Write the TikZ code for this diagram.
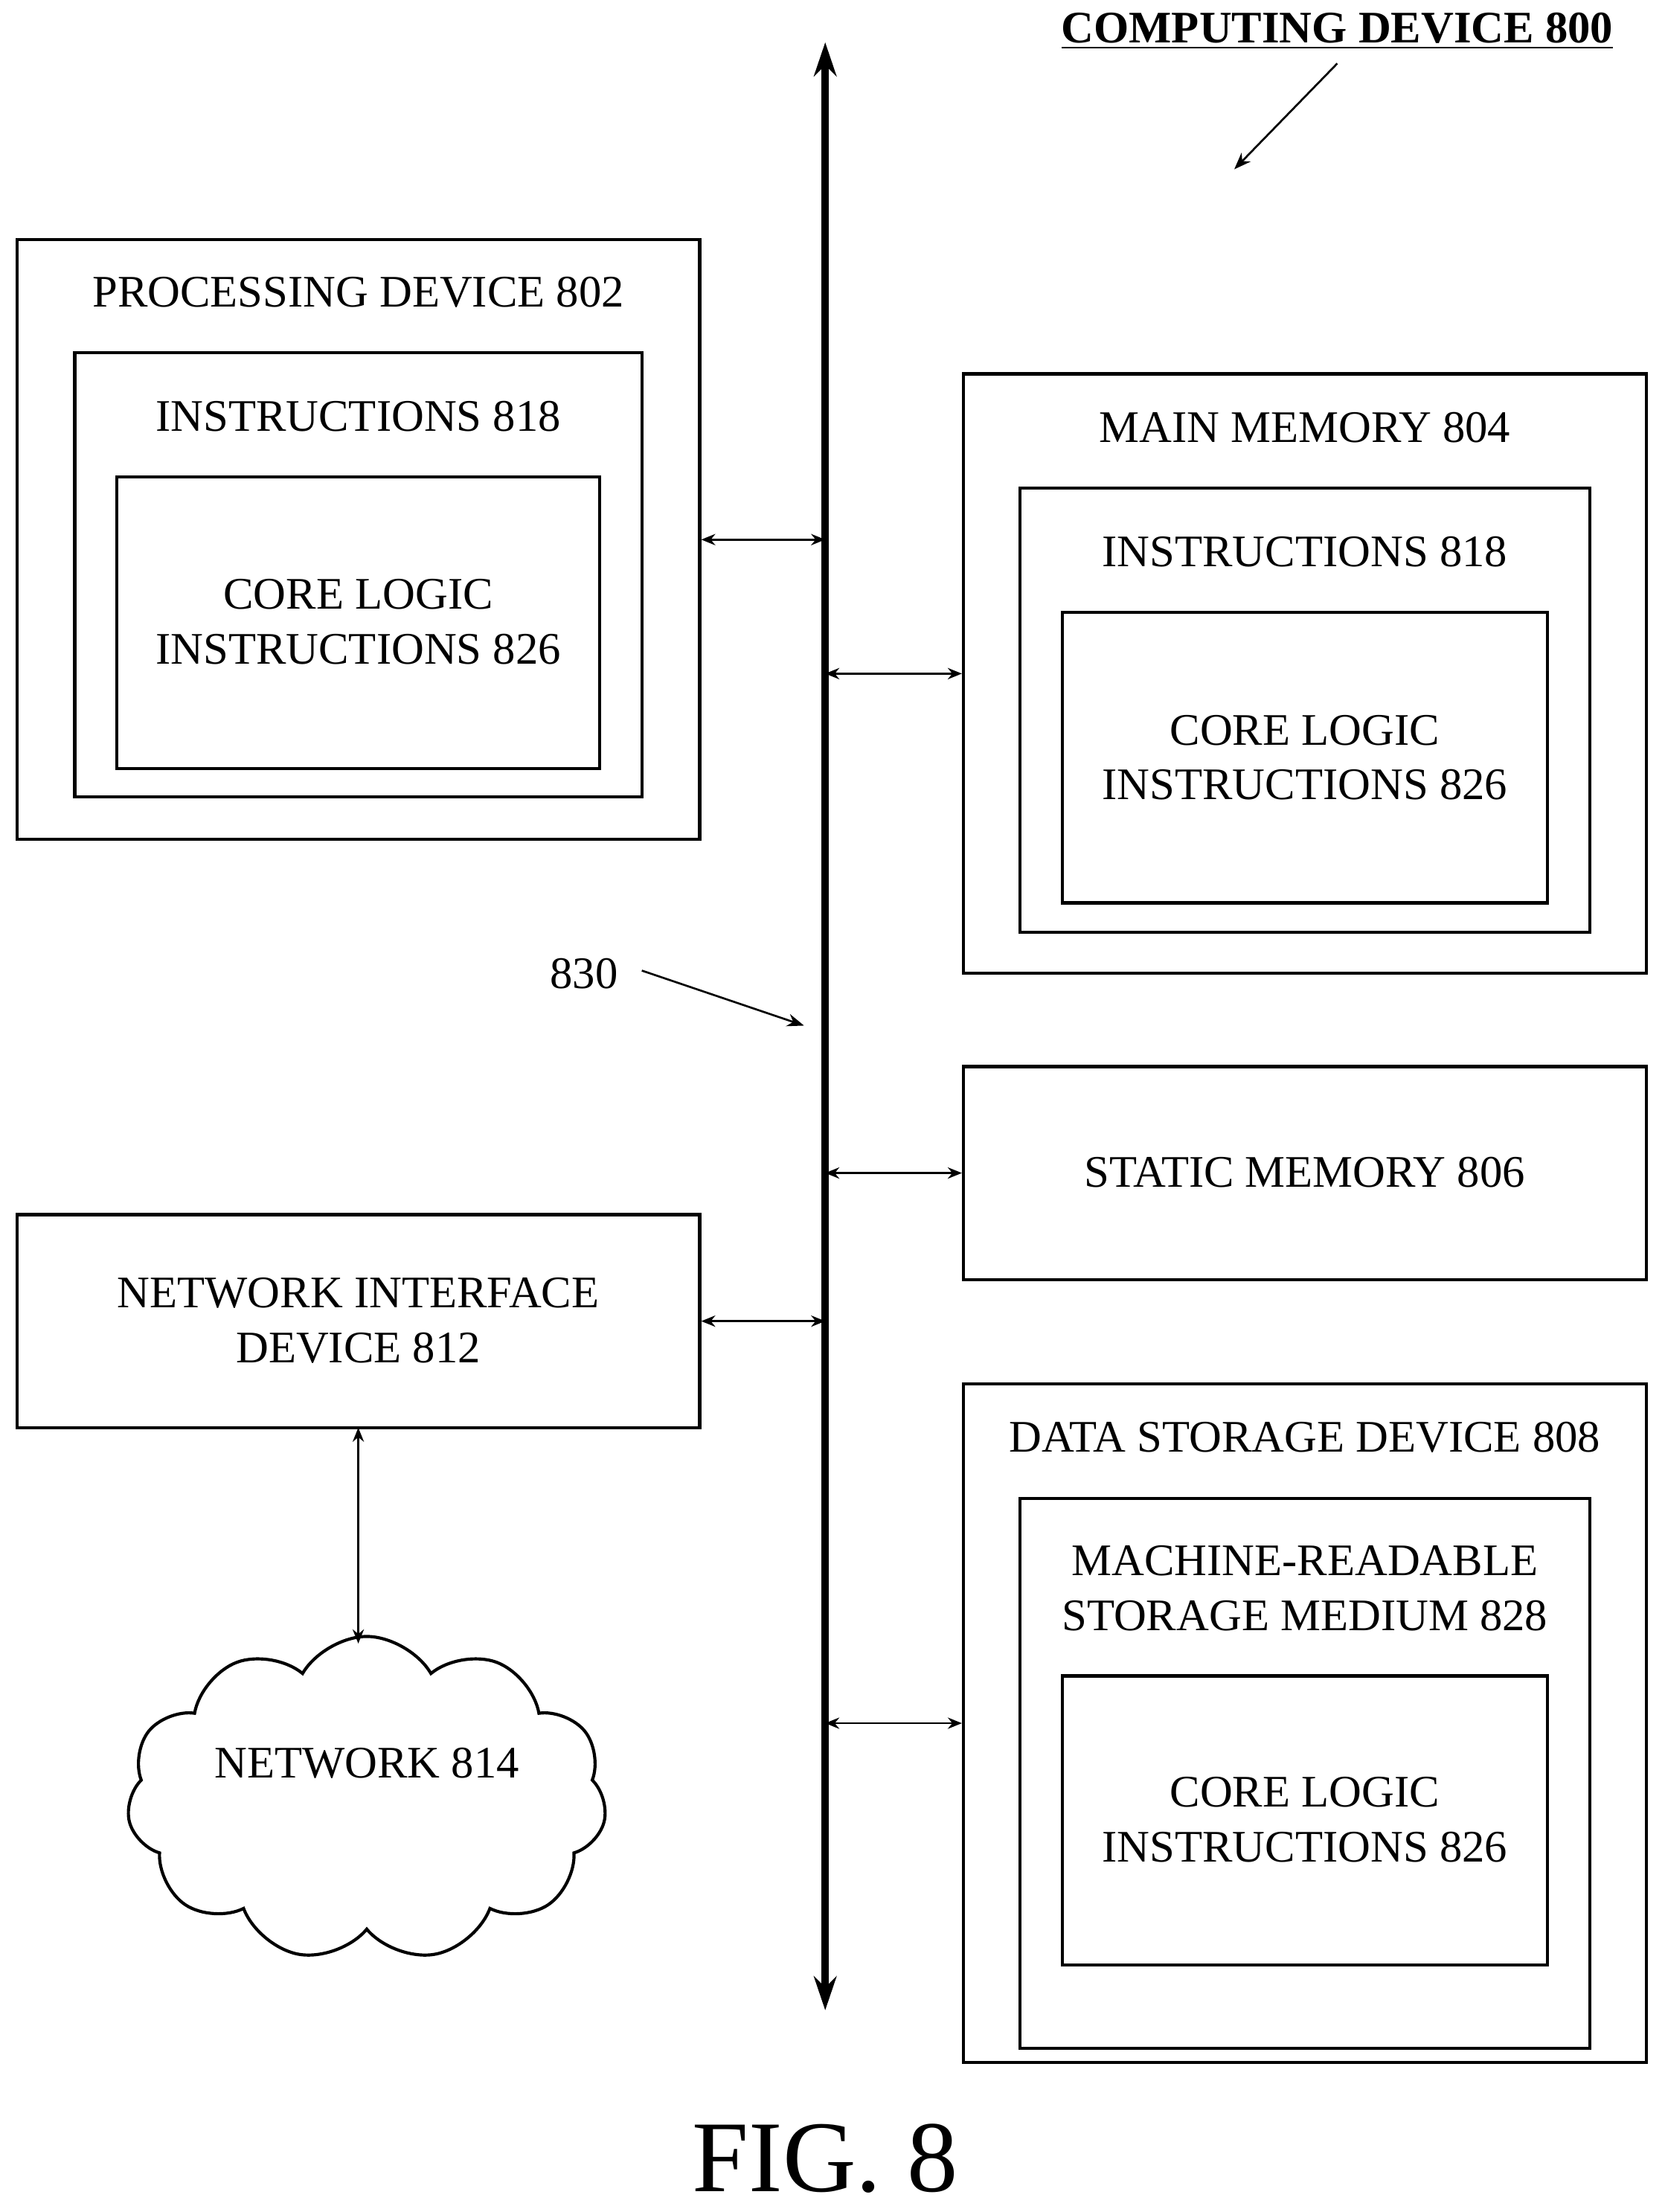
\documentclass[tikz,border=0pt]{standalone}
\usepackage{fontspec}
\setmainfont{Liberation Serif}
\usetikzlibrary{fit,shapes.symbols,arrows.meta}
\begin{document}
\begin{tikzpicture}[x=0.5pt,y=-0.5pt,
  box/.style={draw,line width=1.1pt,inner sep=0pt},
  lbl/.style={font=\fontsize{16}{19.5}\selectfont,align=center,inner sep=0pt},
  arr/.style={{Stealth[length=5pt,width=4pt]}-{Stealth[length=5pt,width=4pt]},line width=0.7pt},
  one/.style={-{Stealth[length=6pt,width=4.5pt]},line width=0.7pt}]
\useasboundingbox (0,0) rectangle (1180,1568);
% bus
\coordinate (bt) at (585,30);
\coordinate (bb) at (585,1425);
\draw[line width=2.6pt,{Stealth[length=12pt,width=8pt]}-{Stealth[length=12pt,width=8pt]}] (bt) -- (bb);
\coordinate (bus) at (585,0);
% processing device
\node[box,fit={(12,170)(496,595)}] (pd) {};
\node[lbl] at (254,207) {PROCESSING DEVICE 802};
\node[box,fit={(53,250)(455,565)}] (pdi) {};
\node[lbl] at (254,295) {INSTRUCTIONS 818};
\node[box,fit={(83,338)(425,545)}] (pdc) {};
\node[lbl] at (254,441) {CORE LOGIC\\INSTRUCTIONS 826};
% main memory
\node[box,fit={(683,265)(1167,690)}] (mm) {};
\node[lbl] at (925,303) {MAIN MEMORY 804};
\node[box,fit={(723,346)(1127,661)}] (mmi) {};
\node[lbl] at (925,391) {INSTRUCTIONS 818};
\node[box,fit={(753,434)(1097,640)}] (mmc) {};
\node[lbl] at (925,537) {CORE LOGIC\\INSTRUCTIONS 826};
% static memory
\node[box,fit={(683,756)(1167,907)}] (sm) {};
\node[lbl] at (925,831) {STATIC MEMORY 806};
% network interface
\node[box,fit={(12,861)(496,1012)}] (ni) {};
\node[lbl] at (254,936) {NETWORK INTERFACE\\DEVICE 812};
% data storage
\node[box,fit={(683,981)(1167,1462)}] (ds) {};
\node[lbl] at (925,1019) {DATA STORAGE DEVICE 808};
\node[box,fit={(723,1062)(1127,1452)}] (dsi) {};
\node[lbl] at (925,1126) {MACHINE-READABLE\\STORAGE MEDIUM 828};
\node[box,fit={(753,1188)(1097,1393)}] (dsc) {};
\node[lbl] at (925,1290) {CORE LOGIC\\INSTRUCTIONS 826};
% cloud
\node[cloud,draw,line width=1.1pt,cloud puffs=11,cloud puff arc=120,aspect=1.5,
  minimum width=170pt,minimum height=115pt,inner sep=0pt] (net) at (260,1275) {};
\node[lbl] at (260,1250) {NETWORK 814};
% connectors
\draw[arr] (pd.east) -- (pd.east -| bus);
\draw[arr] (mm.west) -- (mm.west -| bus);
\draw[arr] (sm.west) -- (sm.west -| bus);
\draw[arr] (ni.east) -- (ni.east -| bus);
\draw[arr] (ds.west) -- (ds.west -| bus);
\coordinate (nt) at (254,1165);
\draw[arr] (254,1012) -- (nt);
% labels
\node[lbl] (l830) at (414,690) {830};
\coordinate (a830) at (570,727);
\draw[one] (455,688) -- (a830);
\node[lbl,font=\bfseries\fontsize{16}{19}\selectfont] (cd) at (948,22) {\underline{COMPUTING DEVICE 800}};
\coordinate (acd) at (875,120);
\draw[one] (948,45) -- (acd);
\node[lbl,font=\fontsize{36}{42}\selectfont] (fig) at (585,1530) {FIG. 8};
\end{tikzpicture}
\end{document}
